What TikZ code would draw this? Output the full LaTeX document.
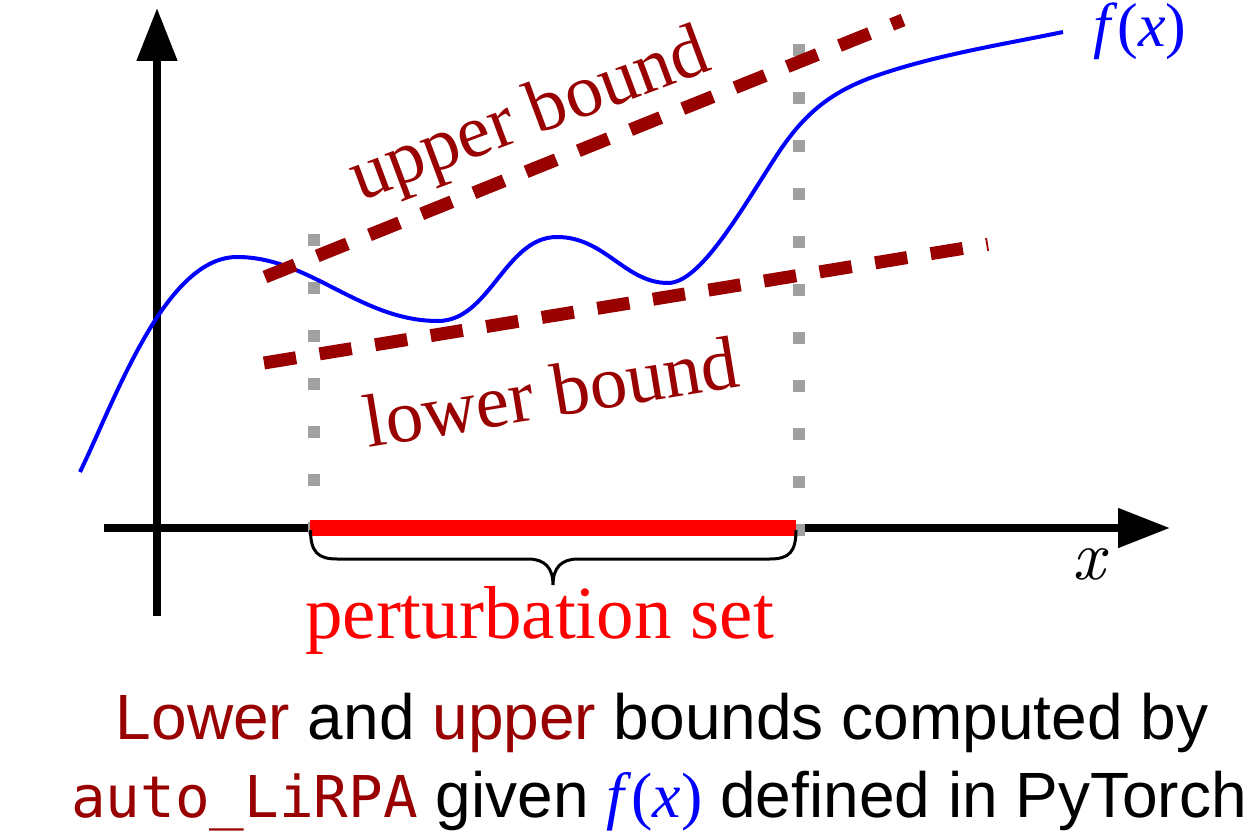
\documentclass[tikz,border=0pt]{standalone}
\usepackage{fontspec}
\setmainfont{Liberation Serif}
\setsansfont{Liberation Sans}
\setmonofont{DejaVu Sans Mono}
\newfontfamily\lmit{lmroman10-italic.otf}
\usetikzlibrary{arrows.meta}
\definecolor{bnd}{RGB}{153,0,0}
\definecolor{fblue}{RGB}{0,0,255}
\definecolor{pred}{RGB}{255,0,0}
\definecolor{dotgray}{RGB}{160,160,160}
\tikzset{
  axisline/.style={line width=8pt, black},
  boundline/.style={line width=13pt, bnd, dash pattern=on 32.5pt off 23.8pt},
  gridline/.style={line width=12pt, dotgray, dash pattern=on 12pt off 36pt},
  curveline/.style={line width=4pt, fblue},
  serifbig/.style={font=\fontsize{75}{80}\selectfont, inner sep=0pt},
  bottomtext/.style={font=\sffamily\fontsize{64}{70}\selectfont, inner sep=0pt, anchor=base}
}
\begin{document}
\begin{tikzpicture}[x=1pt,y=-1pt]
\useasboundingbox (0,0) rectangle (1253,837);
% axes
\coordinate (xs) at (104,528);
\coordinate (xe) at (1170,528);
\coordinate (ys) at (157,616);
\coordinate (ye) at (157,8);
\draw[axisline, -{Triangle[length=52pt,width=38pt]}] (xs) -- (xe);
\draw[axisline, -{Triangle[length=53pt,width=39pt]}] (ys) -- (ye);
% dotted verticals
\coordinate (lt) at (314,234);
\coordinate (lb) at (314,536);
\coordinate (rt) at (798.5,44);
\coordinate (rb) at (798.5,536);
\draw[gridline] (lt) -- (lb);
\draw[gridline] (rt) -- (rb);
% perturbation bar
\coordinate (ps) at (310,528);
\coordinate (pe) at (796,528);
\draw[line width=16pt, pred] (ps) -- (pe);
% brace
\draw[line width=3pt, black]
  (310.5,530) .. controls (310.5,552) and (318,559) .. (337,559)
  -- (528,559) .. controls (545,559) and (553,568) .. (553,585)
  .. controls (553,568) and (561,559) .. (578,559)
  -- (770,559) .. controls (789,559) and (796,552) .. (796,530);
% function curve
\draw[curveline]
  (80,472) .. controls (115,400) and (165,257) .. (237,257)
  .. controls (310,257) and (360,321) .. (438,321)
  .. controls (490,321) and (505,237) .. (557,237)
  .. controls (605,237) and (625,283) .. (668,283)
  .. controls (700,283) and (740,212) .. (775,158)
  .. controls (800,119) and (825,95) .. (870,78)
  .. controls (930,56) and (1000,45) .. (1063,32);
% bound lines
\coordinate (us) at (265,277);
\coordinate (ue) at (903,20);
\coordinate (ls) at (264,363);
\coordinate (le) at (988,244.3);
\draw[boundline] (us) -- (ue);
\draw[boundline] (ls) -- (le);
% labels
\node[serifbig, text=bnd, anchor=base, rotate=20.5] (ub) at (537,135) {upper bound};
\node[serifbig, text=bnd, anchor=base, rotate=9.3] (lbd) at (555,417) {lower bound};
\node[serifbig, text=pred, anchor=base] (pset) at (539.5,638) {perturbation set};
\node[inner sep=0pt, font=\fontsize{62}{70}\selectfont, text=fblue, anchor=base] (fx) at (1140,47) {\itshape f\/\upshape(\itshape x\/\upshape)};
\node[inner sep=0pt, font=\lmit\fontsize{70}{80}\selectfont] (xl) at (1089,564) {x};
\node[bottomtext] (l1) at (662,739) {\textcolor{bnd}{Lower} and \textcolor{bnd}{upper} bounds computed by};
\node[bottomtext] (l2) at (659,817) {\textcolor{bnd}{\ttfamily\fontsize{57.6}{64}\selectfont auto\_LiRPA} given \textcolor{fblue}{\rmfamily\itshape f\/\upshape(\itshape x\/\upshape)} defined in PyTorch};
\end{tikzpicture}
\end{document}
